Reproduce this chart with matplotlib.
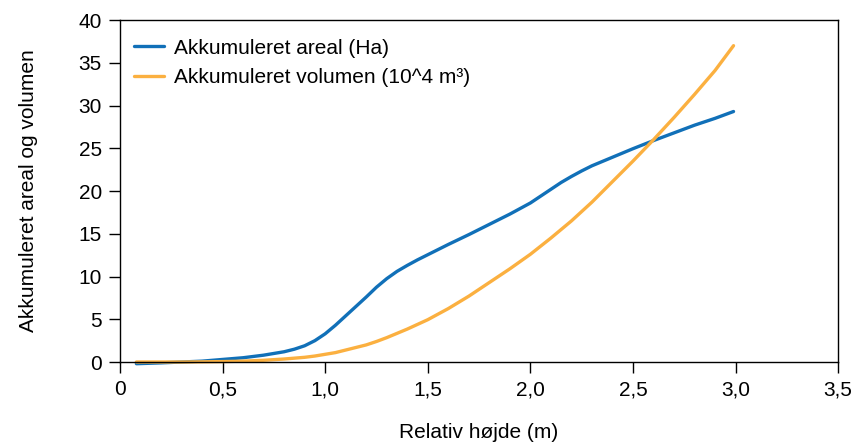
import matplotlib
matplotlib.use('Agg')
import matplotlib.pyplot as plt
from matplotlib.ticker import FuncFormatter

plt.rcParams['font.family'] = ['Liberation Sans', 'DejaVu Sans']

hoejde = [0.08, 0.2, 0.3, 0.4, 0.5, 0.6, 0.7, 0.8, 0.85, 0.9, 0.95, 1.0, 1.05, 1.1, 1.2,
          1.25, 1.3, 1.35, 1.4, 1.45, 1.5, 1.55, 1.6, 1.7, 1.8, 1.9, 2.0, 2.1, 2.15, 2.2,
          2.25, 2.3, 2.4, 2.5, 2.6, 2.7, 2.8, 2.9, 2.99]
areal = [-0.2, -0.1, 0.0, 0.1, 0.3, 0.5, 0.8, 1.2, 1.5, 1.9, 2.5, 3.3, 4.3, 5.4, 7.6,
         8.75, 9.75, 10.6, 11.3, 11.95, 12.55, 13.15, 13.75, 14.9, 16.1, 17.3, 18.6, 20.2, 21.0, 21.7,
         22.35, 22.95, 23.95, 24.95, 25.9, 26.8, 27.7, 28.5, 29.3]
volumen = [0.0, 0.0, 0.0, 0.02, 0.05, 0.1, 0.2, 0.35, 0.45, 0.55, 0.7, 0.9, 1.1, 1.4, 2.0,
           2.4, 2.85, 3.35, 3.85, 4.4, 4.95, 5.6, 6.25, 7.7, 9.3, 10.9, 12.6, 14.5, 15.5, 16.5,
           17.6, 18.7, 21.1, 23.5, 26.0, 28.6, 31.3, 34.1, 37.0]

fig = plt.figure(figsize=(8.65, 4.45), dpi=100)
ax = fig.add_axes([0.1387, 0.1865, 0.8303, 0.7685])

ax.plot(hoejde, areal, color='#1170b8', lw=2.4, solid_capstyle='round',
        label='Akkumuleret areal (Ha)', clip_on=False)
ax.plot(hoejde, volumen, color='#fbb040', lw=2.4, solid_capstyle='round',
        label='Akkumuleret volumen (10^4 m³)', clip_on=False)

ax.set_xlim(0, 3.5)
ax.set_ylim(0, 40)
ax.set_xticks([0, 0.5, 1.0, 1.5, 2.0, 2.5, 3.0, 3.5])
ax.set_yticks(range(0, 41, 5))
ax.xaxis.set_major_formatter(FuncFormatter(lambda v, p: '0' if v == 0 else f'{v:.1f}'.replace('.', ',')))
ax.tick_params(direction='out', length=8, width=1, labelsize=15, pad=5)

for s in ax.spines.values():
    s.set_linewidth(1)

ax.set_xlabel('Relativ højde (m)', fontsize=15, labelpad=17)
ax.set_ylabel('Akkumuleret areal og volumen', fontsize=15, labelpad=29)

ax.legend(loc='upper left', bbox_to_anchor=(0.0, 0.985), frameon=False, fontsize=15,
          handlelength=1.45, labelspacing=0.5, borderaxespad=0.25, handletextpad=0.5)

fig.savefig('out.png', dpi=100)
